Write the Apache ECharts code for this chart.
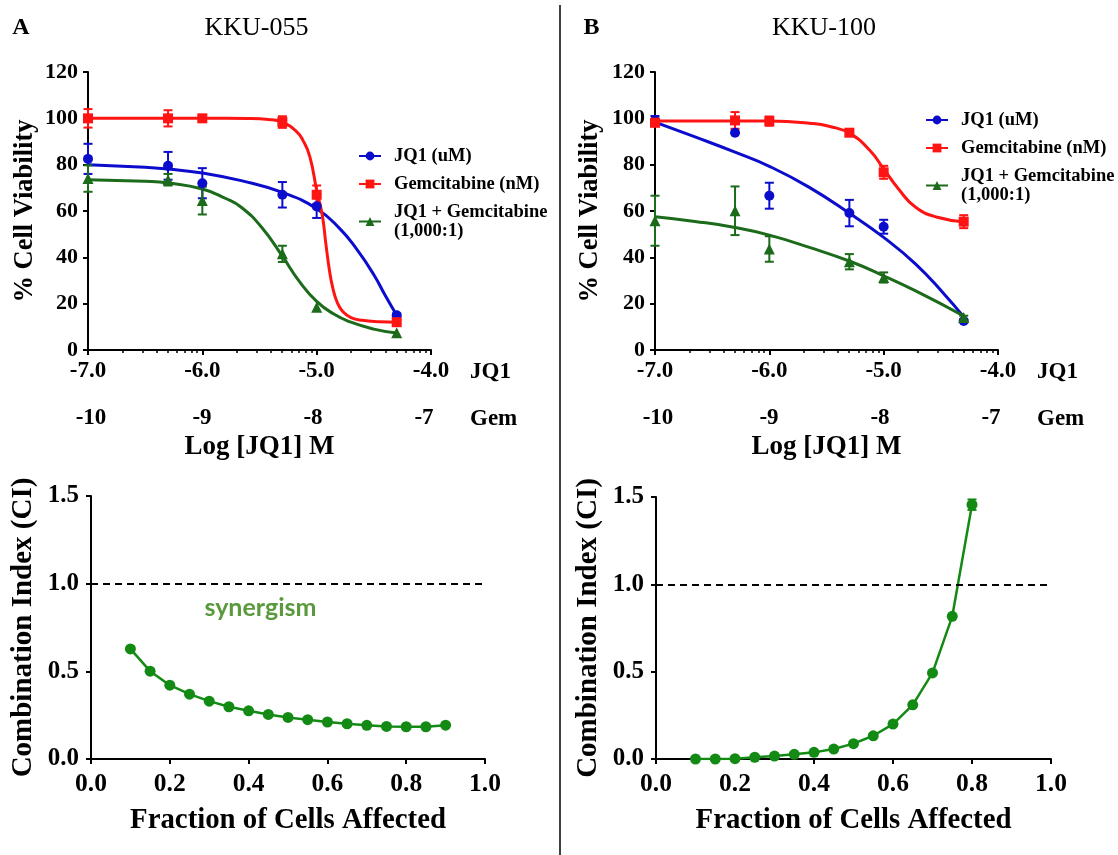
<!DOCTYPE html>
<html>
<head>
<meta charset="utf-8">
<script src="https://cdn.jsdelivr.net/npm/echarts@6/dist/echarts.min.js"></script>
<style>
  html, body { margin: 0; padding: 0; background: #fff; }
  #chart { width: 1118px; height: 855px; }
</style>
</head>
<body>
<div id="chart"></div>
<script>
// Dose-response (top) and combination-index (bottom) panels for KKU-055 and KKU-100.

const SERIF = "'Liberation Serif', 'Times New Roman', serif";
const BLUE = '#0c0ccc';
const RED = '#ff1414';
const DKGREEN = '#1b6b1b';
const GREEN = '#138a13';

// ---- axis ticks ----
const jq1TickValues = [-7, -6, -5, -4];
const jq1TickLabels = ['-7.0', '-6.0', '-5.0', '-4.0'];
const gemTickValues = [-10, -9, -8, -7];
const gemTickLabels = ['-10', '-9', '-8', '-7'];

// ---- tested doses, log10 [JQ1] (M) ----
const logDose = [-7, -6.3, -6, -5.3, -5, -4.3];

// ---- KKU-055: mean % viability and error ----
const a_jq1_mean = [82.5, 79.5, 72, 67, 62, 15];
const a_jq1_err = [6.5, 6, 6.5, 5.5, 5, 0.8];
const a_gem_mean = [100, 100, 100, 98.4, 67, 12];
const a_gem_err = [4, 3.5, 1, 2.5, 4, 1];
const a_combo_mean = [74, 73.5, 64.5, 41.5, 18.5, 7.5];
const a_combo_err = [5.7, 2.5, 6, 3.5, 0, 0];

// ---- KKU-055: fitted curves ----
const a_jq1_fit_x = [-7, -6.5, -6.3, -6, -5.66, -5.3, -5.0, -4.8, -4.65, -4.5, -4.4, -4.3];
const a_jq1_fit_y = [80, 78.9, 78.1, 76.4, 73.1, 68, 61, 52.5, 43.5, 32.5, 23.5, 15];
const a_gem_fit_x = [-7, -6.5, -6, -5.6, -5.42, -5.3, -5.18, -5.12, -5.06, -5.0, -4.95, -4.92, -4.89, -4.86, -4.82, -4.77, -4.7, -4.6, -4.45, -4.3];
const a_gem_fit_y = [100, 100, 100, 99.9, 99.5, 98.3, 94.5, 90.5, 83.5, 69, 58, 46, 35, 27, 20.5, 16.5, 14, 12.8, 12.2, 12];
const a_combo_fit_x = [-7, -6.5, -6.3, -6, -5.8, -5.66, -5.48, -5.3, -5.15, -5.0, -4.85, -4.7, -4.5, -4.3];
const a_combo_fit_y = [73.5, 72.8, 72.1, 69.5, 65.5, 61.6, 52.9, 40.5, 29.5, 21, 15.5, 12, 9, 7.3];

// ---- KKU-100: mean % viability and error ----
const b_jq1_mean = [99, 93.8, 66.6, 59.1, 53.2, 12.5];
const b_jq1_err = [2, 0, 5.6, 5.7, 3, 0.5];
const b_gem_mean = [98.1, 99.1, 98.8, 93.8, 76.7, 55.4];
const b_gem_err = [1.5, 3.6, 2, 1.2, 2.8, 2.8];
const b_combo_mean = [55.8, 60.1, 43.6, 38.1, 31.3, 14];
const b_combo_err = [10.8, 10.5, 5.5, 3.3, 2.2, 0.8];

// ---- KKU-100: fitted curves ----
const b_jq1_fit_x = [-7, -6.65, -6.3, -6, -5.65, -5.29, -5.0, -4.72, -4.47, -4.3];
const b_jq1_fit_y = [98.4, 92, 85.4, 79.3, 70.2, 58.7, 48.6, 37.1, 24.1, 14.3];
const b_gem_fit_x = [-7, -6.5, -6, -5.65, -5.47, -5.29, -5.12, -5.0, -4.87, -4.72, -4.53, -4.3];
const b_gem_fit_y = [98.9, 98.9, 98.8, 97.9, 96.5, 93.3, 86.1, 78.2, 69.5, 61.6, 57.3, 55.4];
const b_combo_fit_x = [-7, -6.65, -6.3, -6, -5.65, -5.29, -5.0, -4.72, -4.3];
const b_combo_fit_y = [57.5, 55.5, 52.9, 49.6, 44.3, 38.2, 32, 25.5, 14.7];

// ---- combination index vs fraction affected ----
const fa_kku055 = [0.10, 0.15, 0.20, 0.25, 0.30, 0.35, 0.40, 0.45, 0.50, 0.55, 0.60, 0.65, 0.70, 0.75, 0.80, 0.85, 0.90];
const ci_kku055 = [0.628, 0.501, 0.421, 0.370, 0.330, 0.298, 0.275, 0.254, 0.237, 0.224, 0.211, 0.201, 0.192, 0.186, 0.184, 0.184, 0.193];
const fa_kku100 = [0.10, 0.15, 0.20, 0.25, 0.30, 0.35, 0.40, 0.45, 0.50, 0.55, 0.60, 0.65, 0.70, 0.75, 0.80];
const ci_kku100 = [0, 0, 0.002, 0.010, 0.017, 0.027, 0.038, 0.057, 0.088, 0.133, 0.200, 0.310, 0.493, 0.817, 1.456];
const ci_kku100_err = [0, 0, 0, 0, 0, 0, 0, 0, 0, 0, 0, 0, 0, 0, 0.03];

const LEGEND_NAMES = ['JQ1 (uM)', 'Gemcitabine (nM)', 'JQ1 + Gemcitabine\n(1,000:1)'];

// log-decade minor tick positions between the major ticks
const minorTicks = [];
for (let d = -7; d < -4; d++) {
  for (let k = 2; k <= 9; k++) minorTicks.push(d + Math.log10(k));
}

function errorBar(params, api) {
  const x = api.value(0), y = api.value(1), e = api.value(2);
  if (!e) return null;
  const lo = api.coord([x, y - e]);
  const hi = api.coord([x, y + e]);
  const half = 4.5;
  const style = { stroke: api.visual('color'), lineWidth: 2 };
  return {
    type: 'group',
    children: [
      { type: 'line', shape: { x1: lo[0], y1: lo[1], x2: hi[0], y2: hi[1] }, style },
      { type: 'line', shape: { x1: lo[0] - half, y1: lo[1], x2: lo[0] + half, y2: lo[1] }, style },
      { type: 'line', shape: { x1: hi[0] - half, y1: hi[1], x2: hi[0] + half, y2: hi[1] }, style }
    ]
  };
}

function doseSeries(xi, yi, name, color, symbol, fitX, fitY, mean, err) {
  return [
    {
      type: 'line', name, xAxisIndex: xi, yAxisIndex: yi,
      data: fitX.map((x, i) => [x, fitY[i]]),
      smooth: 0.5,
      symbol, symbolSize: 10, showSymbol: false,
      lineStyle: { color, width: 3 }, itemStyle: { color },
      z: 2, silent: true
    },
    {
      type: 'custom', name: name + ' error', xAxisIndex: xi, yAxisIndex: yi,
      data: logDose.map((x, i) => [x, mean[i], err[i]]),
      encode: { x: 0, y: 1 },
      renderItem: errorBar, itemStyle: { color },
      z: 3, silent: true
    },
    {
      type: 'scatter', name: name + ' mean', xAxisIndex: xi, yAxisIndex: yi,
      data: logDose.map((x, i) => [x, mean[i]]),
      symbol, symbolSize: symbol === 'triangle' ? 11 : 10,
      itemStyle: { color, opacity: 1 },
      z: 4, silent: true
    }
  ];
}

const axisLineStyle = { lineStyle: { color: '#000', width: 2 } };
const tickStyle = { show: true, length: 5, lineStyle: { color: '#000', width: 2 } };
const tickFont = { fontFamily: SERIF, fontWeight: 'bold', color: '#000' };

function doseAxes(gridIndex) {
  return [
    { // log [JQ1] axis
      type: 'value', gridIndex, position: 'bottom',
      min: -7, max: -4, interval: 1,
      axisLine: axisLineStyle, axisTick: tickStyle,
      axisLabel: Object.assign({ fontSize: 23, margin: 10,
        formatter: v => jq1TickLabels[jq1TickValues.indexOf(v)] || '' }, tickFont),
      splitLine: { show: false },
      name: 'JQ1', nameLocation: 'end', nameGap: 39,
      nameTextStyle: Object.assign({ fontSize: 23, verticalAlign: 'top', padding: [11, 0, 0, 0] }, tickFont)
    },
    { // minor log ticks, and the shared axis title
      type: 'value', gridIndex, position: 'bottom',
      min: -7, max: -4, interval: 1,
      axisLine: { show: false },
      axisTick: { show: true, length: 3, customValues: minorTicks, lineStyle: { color: '#000', width: 1.5 } },
      axisLabel: { show: false },
      splitLine: { show: false },
      name: 'Log [JQ1] M', nameLocation: 'middle', nameGap: 84,
      nameTextStyle: Object.assign({ fontSize: 27 }, tickFont)
    },
    { // log [Gemcitabine] axis
      type: 'value', gridIndex, position: 'bottom', offset: 47,
      min: -10.027, max: -6.937,
      axisLine: { show: false }, axisTick: { show: false },
      axisLabel: Object.assign({ fontSize: 23, margin: 10, customValues: gemTickValues,
        formatter: v => gemTickLabels[gemTickValues.indexOf(Math.round(v))] }, tickFont),
      splitLine: { show: false },
      name: 'Gem', nameLocation: 'end', nameGap: 39,
      nameTextStyle: Object.assign({ fontSize: 23, verticalAlign: 'top', padding: [11, 0, 0, 0] }, tickFont)
    }
  ];
}

function viabilityAxis(gridIndex, gap) {
  return {
    type: 'value', gridIndex, min: 0, max: 120, interval: 20,
    axisLine: Object.assign({ show: true }, axisLineStyle), axisTick: tickStyle,
    axisLabel: Object.assign({ fontSize: 22, margin: 10 }, tickFont),
    splitLine: { show: false },
    name: '% Cell Viability', nameLocation: 'middle', nameGap: gap,
    nameTextStyle: Object.assign({ fontSize: 26.5 }, tickFont)
  };
}

function faAxis(gridIndex) {
  return {
    type: 'value', gridIndex, min: 0, max: 1, interval: 0.2,
    axisLine: axisLineStyle, axisTick: tickStyle,
    axisLabel: Object.assign({ fontSize: 25.5, margin: 12, formatter: v => v.toFixed(1) }, tickFont),
    splitLine: { show: false },
    name: 'Fraction of Cells Affected', nameLocation: 'middle', nameGap: 47,
    nameTextStyle: Object.assign({ fontSize: 28.8 }, tickFont)
  };
}

function ciAxis(gridIndex, gap) {
  return {
    type: 'value', gridIndex, min: 0, max: 1.5, interval: 0.5,
    axisLine: Object.assign({ show: true }, axisLineStyle), axisTick: tickStyle,
    axisLabel: Object.assign({ fontSize: 25, margin: 12, formatter: v => v.toFixed(1) }, tickFont),
    splitLine: { show: false },
    name: 'Combination Index (CI)', nameLocation: 'middle', nameGap: gap,
    nameTextStyle: Object.assign({ fontSize: 29 }, tickFont)
  };
}

const ciMarkLine = {
  silent: true, symbol: 'none', label: { show: false },
  lineStyle: { color: '#000', type: [7, 5], width: 2 },
  data: [{ yAxis: 1 }]
};

function legendAt(left, top) {
  return {
    orient: 'vertical', left, top, padding: 0,
    itemWidth: 22, itemHeight: 11, itemGap: 9,
    selectedMode: false,
    data: LEGEND_NAMES,
    textStyle: { fontFamily: SERIF, fontWeight: 'bold', fontSize: 18.5, lineHeight: 19,
      color: '#000', padding: [0, 0, 0, 8] }
  };
}

function panelText(x, y, text, size, weight) {
  return {
    type: 'text', x, y,
    style: { text, fontFamily: SERIF, fontSize: size, fontWeight: weight,
      fill: '#000', align: 'center', verticalAlign: 'middle' }
  };
}

const series = [].concat(
  doseSeries(0, 0, LEGEND_NAMES[0], BLUE, 'circle', a_jq1_fit_x, a_jq1_fit_y, a_jq1_mean, a_jq1_err),
  doseSeries(0, 0, LEGEND_NAMES[1], RED, 'rect', a_gem_fit_x, a_gem_fit_y, a_gem_mean, a_gem_err),
  doseSeries(0, 0, LEGEND_NAMES[2], DKGREEN, 'triangle', a_combo_fit_x, a_combo_fit_y, a_combo_mean, a_combo_err),
  doseSeries(3, 1, LEGEND_NAMES[0], BLUE, 'circle', b_jq1_fit_x, b_jq1_fit_y, b_jq1_mean, b_jq1_err),
  doseSeries(3, 1, LEGEND_NAMES[1], RED, 'rect', b_gem_fit_x, b_gem_fit_y, b_gem_mean, b_gem_err),
  doseSeries(3, 1, LEGEND_NAMES[2], DKGREEN, 'triangle', b_combo_fit_x, b_combo_fit_y, b_combo_mean, b_combo_err),
  [
    {
      type: 'line', name: 'CI KKU-055', xAxisIndex: 6, yAxisIndex: 2,
      data: fa_kku055.map((f, i) => [f, ci_kku055[i]]),
      symbol: 'circle', symbolSize: 11, showSymbol: true,
      lineStyle: { color: GREEN, width: 2.5 }, itemStyle: { color: GREEN },
      markLine: ciMarkLine,
      markPoint: {
        silent: true, symbol: 'circle', symbolSize: 1,
        itemStyle: { color: 'rgba(0,0,0,0)' },
        label: { show: true, position: 'inside', formatter: 'synergism',
          fontFamily: "Lato, 'Open Sans', sans-serif", fontWeight: 'bold', fontSize: 25, color: '#5a9a3c' },
        data: [{ coord: [0.43, 0.86] }]
      },
      silent: true
    },
    {
      type: 'custom', name: 'CI KKU-100 error', xAxisIndex: 7, yAxisIndex: 3,
      data: fa_kku100.map((f, i) => [f, ci_kku100[i], ci_kku100_err[i]]),
      encode: { x: 0, y: 1 }, renderItem: errorBar, itemStyle: { color: GREEN }, silent: true
    },
    {
      type: 'line', name: 'CI KKU-100', xAxisIndex: 7, yAxisIndex: 3,
      data: fa_kku100.map((f, i) => [f, ci_kku100[i]]),
      symbol: 'circle', symbolSize: 11, showSymbol: true,
      lineStyle: { color: GREEN, width: 2.5 }, itemStyle: { color: GREEN },
      markLine: ciMarkLine,
      silent: true
    }
  ]
);

const option = {
  animation: false,
  backgroundColor: '#fff',
  textStyle: { fontFamily: SERIF },
  grid: [
    { left: 88, top: 72, width: 343, height: 278 },
    { left: 655, top: 72, width: 343, height: 278 },
    { left: 91, top: 496, width: 394, height: 263 },
    { left: 656, top: 497, width: 395, height: 262 }
  ],
  xAxis: [].concat(doseAxes(0), doseAxes(1), [faAxis(2), faAxis(3)]),
  yAxis: [viabilityAxis(0, 49), viabilityAxis(1, 51), ciAxis(2, 53), ciAxis(3, 53)],
  legend: [legendAt(358, 146.5), legendAt(925, 110.5)],
  graphic: [
    { type: 'line', shape: { x1: 560, y1: 5, x2: 560, y2: 855 }, style: { stroke: '#000', lineWidth: 1.5 } },
    panelText(21, 28, 'A', 24, 'bold'),
    panelText(256.5, 28, 'KKU-055', 26, 'normal'),
    panelText(591.5, 28, 'B', 24, 'bold'),
    panelText(824, 28, 'KKU-100', 26, 'normal')
  ],
  series
};

const chart = echarts.init(document.getElementById('chart'), null, { renderer: 'canvas' });
chart.setOption(option);
</script>
</body>
</html>
